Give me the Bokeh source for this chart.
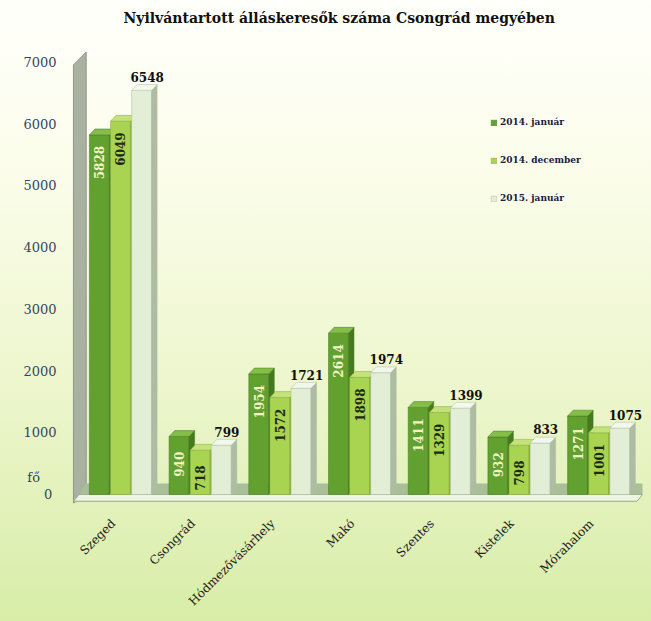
import numpy as np
from bokeh.plotting import figure
from bokeh.models import ColumnDataSource, Range1d, FixedTicker, Legend, LegendItem
from bokeh.core.properties import value
from bokeh.embed import file_html
from bokeh.resources import INLINE

# ---------------- data ----------------
title_text = "Nyilvántartott álláskeresők száma Csongrád megyében"
towns = ["Szeged", "Csongrád", "Hódmezővásárhely", "Makó", "Szentes", "Kistelek", "Mórahalom"]
jan_2014 = [5828, 940, 1954, 2614, 1411, 932, 1271]
dec_2014 = [6049, 718, 1572, 1898, 1329, 798, 1001]
jan_2015 = [6548, 799, 1721, 1974, 1399, 833, 1075]
series_names = ["2014. január", "2014. december", "2015. január"]
y_ticks = [0, 1000, 2000, 3000, 4000, 5000, 6000, 7000]
unit_label = "fő"
unit_label_pos = 270

# ---------------- style ----------------
FONT = "DejaVu Serif"
NBSP = "\u00a0"
front_cols = ["#62a02f", "#a8d452", "#e2eed6"]
side_cols = ["#477a20", "#84ad36", "#aebca3"]
top_cols = ["#84bd48", "#c4e27a", "#f2f8ec"]
inside_text_cols = ["#f6f2c6", "#1c2a12"]

BAR_W = 0.25
OFFS = [-0.265, 0.0, 0.265]
DX = 0.07
DY = 95
LABEL_SHIFT = -0.09

p = figure(width=651, height=621, output_backend="svg", toolbar_location=None,
           x_range=Range1d(-0.127, 7.125), y_range=Range1d(-146, 7519),
           min_border_left=70, min_border_right=3, min_border_top=30, min_border_bottom=118)
p.styles = {"background": "linear-gradient(to bottom, #fffffb 0%, #fbfdea 28%, #edf6cd 62%, #d8eda8 100%)"}
p.border_fill_alpha = 0
p.background_fill_alpha = 0
p.outline_line_color = None
p.grid.visible = False

p.title.text = title_text
p.title.text_font = FONT
p.title.text_font_size = "14px"
p.title.text_font_style = "bold"
p.title.align = "left"
p.title.offset = 53
p.title.text_color = "#111111"

# axes
cx = np.arange(len(towns)) + 0.5
label_pos = cx + LABEL_SHIFT
p.xaxis.ticker = FixedTicker(ticks=list(label_pos))
p.xaxis.major_label_overrides = {float(c): t for c, t in zip(label_pos, towns)}
p.xaxis.major_label_orientation = np.pi / 4
p.xaxis.major_label_text_font = FONT
p.xaxis.major_label_text_font_size = "12px"
p.xaxis.major_label_text_color = "#222222"
p.xaxis.axis_line_color = None
p.xaxis.major_tick_line_color = None
p.xaxis.minor_tick_line_color = None
p.xaxis.major_label_standoff = 12

y_overrides = {t: str(t) for t in y_ticks}
y_overrides[0] = "0" + NBSP
y_overrides[unit_label_pos] = unit_label + NBSP * 4
p.yaxis.ticker = FixedTicker(ticks=sorted(y_ticks + [unit_label_pos]))
p.yaxis.major_label_overrides = y_overrides
p.yaxis.major_label_text_font = FONT
p.yaxis.major_label_text_font_size = "13px"
p.yaxis.major_label_text_color = "#34465a"
p.yaxis.axis_line_color = None
p.yaxis.major_tick_line_color = None
p.yaxis.minor_tick_line_color = None
p.yaxis.major_label_standoff = 8

# back wall and floor (decoration)
p.patch([-0.09, 0.07, 0.07, -0.09], [-140, 0, 7170, 6960], fill_color="#a9b1a1", line_color="#8f978a")
p.patch([-0.09, 6.98, 7.05, -0.02], [-110, -110, 0, 0], fill_color="#edf4e0", line_color="#9ca892")
p.patch([-0.02, 7.05, 7.05, 0.06], [0, 0, 180, 180], fill_color="#a9bf98", line_color=None)

series = [jan_2014, dec_2014, jan_2015]
front_renderers = []
for s, vals in enumerate(series):
    v = np.array(vals, dtype=float)
    left = cx + OFFS[s] - BAR_W / 2
    right = left + BAR_W
    r = p.quad(left=left, right=right, bottom=0, top=v, fill_color=front_cols[s],
               line_color=side_cols[s], line_width=0.5)
    front_renderers.append(r)
    side_xs = [[ri, ri + DX, ri + DX, ri] for ri in right]
    side_ys = [[0, DY, vi + DY, vi] for vi in v]
    p.patches(side_xs, side_ys, fill_color=side_cols[s], line_color=side_cols[s], line_width=0.5)
    top_xs = [[li, li + DX, ri + DX, ri] for li, ri in zip(left, right)]
    top_ys = [[vi, vi + DY, vi + DY, vi] for vi in v]
    p.patches(top_xs, top_ys, fill_color=top_cols[s], line_color=side_cols[s], line_width=0.5)

# inside (rotated) labels
for s in range(2):
    v = np.array(series[s], dtype=float)
    src = ColumnDataSource(dict(x=cx + OFFS[s], y=v - 450, t=[str(int(a)) for a in v]))
    p.text(x="x", y="y", text="t", source=src, angle=np.pi / 2, text_align="center",
           text_baseline="middle", text_font=value(FONT), text_font_size="12px",
           text_font_style="bold", text_color=inside_text_cols[s])

# top labels for 2015
v3 = np.array(jan_2015, dtype=float)
src3 = ColumnDataSource(dict(x=cx + OFFS[2] + 0.07, y=v3 + 140, t=[str(int(a)) for a in v3]))
p.text(x="x", y="y", text="t", source=src3, text_align="center", text_baseline="bottom",
       text_font=value(FONT), text_font_size="12px", text_font_style="bold", text_color="#111111")

# legend
items = [LegendItem(label=n, renderers=[r]) for n, r in zip(series_names, front_renderers)]
leg = Legend(items=items, location=(420, 298), padding=0, margin=0, spacing=24,
             glyph_width=7, glyph_height=7, label_height=14, label_standoff=3,
             label_text_font=FONT, label_text_font_size="9px", label_text_font_style="bold",
             label_text_color="#1a2040", background_fill_alpha=0, border_line_alpha=0)
p.add_layout(leg)

open("out.html", "w").write(file_html(p, INLINE))
